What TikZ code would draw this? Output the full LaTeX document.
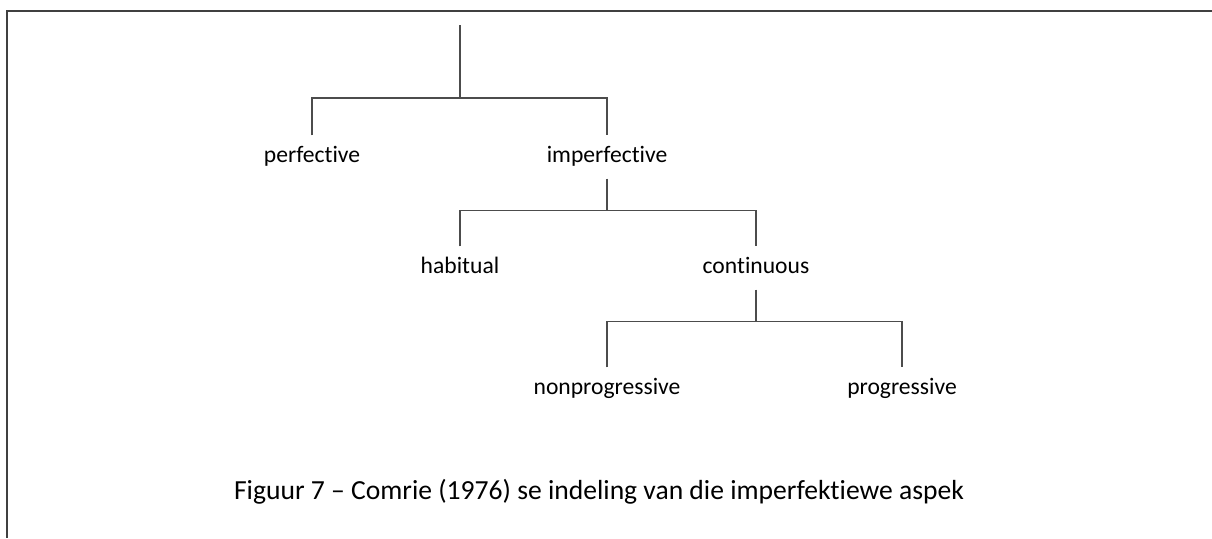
\documentclass[tikz,border=0pt]{standalone}
\usepackage{fontspec}
\setmainfont{Carlito}[Ligatures=NoCommon]
\usepackage{tikz}
\usetikzlibrary{positioning}

\begin{document}
\begin{tikzpicture}[x=0.5pt,y=-0.5pt,semithick,
      every node/.style={font=\fontsize{11.8}{13}\selectfont,text height=8pt,
      text depth=2.5pt,inner xsep=2pt,inner ysep=5.25pt}]
    \tikzstyle{branch}=[draw=black!70,line width=0.75pt]
    \tikzstyle{frame}=[draw=black!75,line width=1pt]
    \useasboundingbox (0,0) rectangle (1212,538);
    \draw[frame] (1212,11) -- (7,11) -- (7,538);

    \coordinate (top) at (460,25);
    \node (perf)     at (312,157) {perfective};
    \node (imperf)   at (607,157) {imperfective};
    \node (hab)      at (460,268) {habitual};
    \node (cont)     at (756,268) {continuous};
    \node (nonprog)  at (607,389) {nonprogressive};
    \node (prog)     at (902,389) {progressive};

    % tree branches
    \draw[branch] (top) -- ++(0,73) coordinate (j1);
    \draw[branch] (perf.north) -- (perf.north |- j1) -- (imperf.north |- j1) -- (imperf.north);
    \draw[branch] (imperf.south) -- ++(0,32) coordinate (j2);
    \draw[branch] (hab.north) -- (hab.north |- j2) -- (cont.north |- j2) -- (cont.north);
    \draw[branch] (cont.south) -- ++(0,32) coordinate (j3);
    \draw[branch] (nonprog.north) -- (nonprog.north |- j3) -- (prog.north |- j3) -- (prog.north);

    \node[font=\fontsize{13.8}{15}\selectfont] (caption) at (599,494)
      {Figuur 7 -- Comrie (1976) se indeling van die imperfektiewe aspek};
  \end{tikzpicture}
\end{document}
